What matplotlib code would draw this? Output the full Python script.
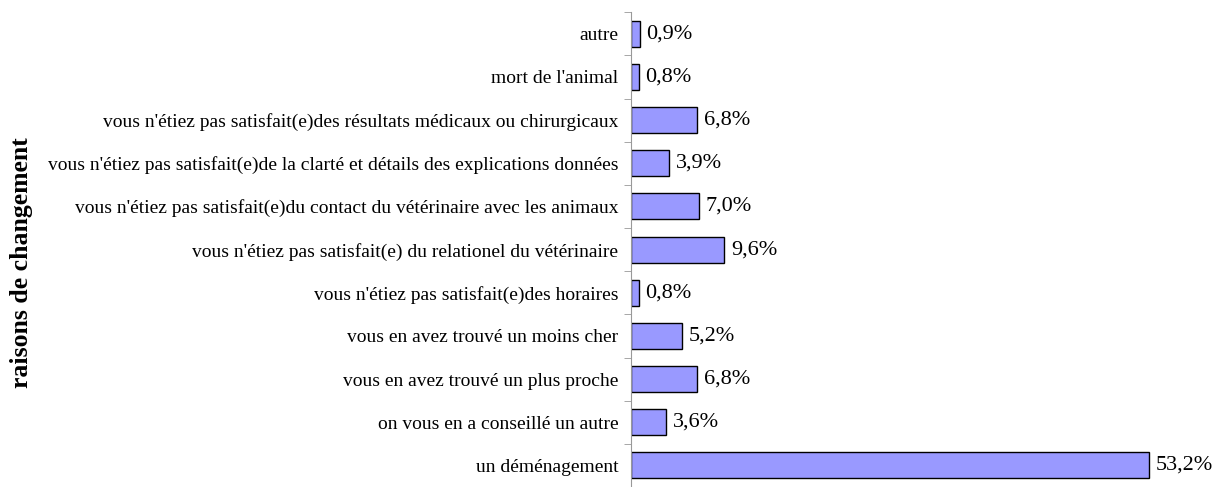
import matplotlib.pyplot as plt
from matplotlib.ticker import FixedLocator

# categories from bottom to top
categories = [
    "un déménagement",
    "on vous en a conseillé un autre",
    "vous en avez trouvé un plus proche",
    "vous en avez trouvé un moins cher",
    "vous n'étiez pas satisfait(e)des horaires",
    "vous n'étiez pas satisfait(e) du relationel du vétérinaire",
    "vous n'étiez pas satisfait(e)du contact du vétérinaire avec les animaux",
    "vous n'étiez pas satisfait(e)de la clarté et détails des explications données",
    "vous n'étiez pas satisfait(e)des résultats médicaux ou chirurgicaux",
    "mort de l'animal",
    "autre",
]
values = [53.2, 3.6, 6.8, 5.2, 0.8, 9.6, 7.0, 3.9, 6.8, 0.8, 0.9]

plt.rcParams['font.family'] = ['Liberation Serif', 'DejaVu Serif']

fig = plt.figure(figsize=(12.18, 4.87), dpi=100)
ax = fig.add_axes([0.518, 0.0, 0.48, 0.975])

y = list(range(len(categories)))
ax.barh(y, values, height=0.6, color='#9999ff', edgecolor='black', linewidth=1.0)

for yi, v in zip(y, values):
    ax.text(v + 0.7, yi, f"{v:.1f}%".replace('.', ','), va='center', ha='left',
            fontsize=16)

ax.set_xlim(0, 60)
ax.set_ylim(-0.5, len(categories) - 0.5)

ax.set_yticks(y)
ax.set_yticklabels(categories, fontsize=14)
ax.tick_params(axis='y', which='major', length=0, pad=9)
ax.yaxis.set_minor_locator(FixedLocator([i - 0.5 for i in range(len(categories) + 1)]))
ax.tick_params(axis='y', which='minor', length=5, color='#999999', direction='out')

ax.set_xticks([])
for side in ('top', 'right', 'bottom'):
    ax.spines[side].set_visible(False)
ax.spines['left'].set_color('#999999')

fig.text(0.008, 0.46, "raisons de changement", rotation=90, va='center', ha='left',
         fontsize=18.5, fontweight='bold')

fig.savefig('out.png', dpi=100)
